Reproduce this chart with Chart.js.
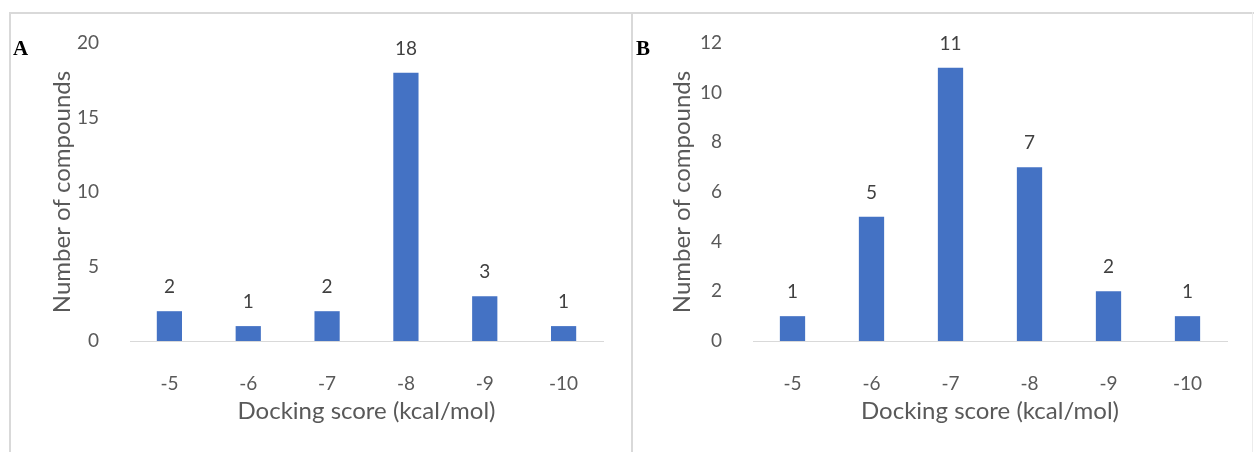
<!DOCTYPE html>
<html>
<head>
<meta charset="utf-8">
<script src="https://cdn.jsdelivr.net/npm/chart.js@4.4.1/dist/chart.umd.min.js"></script>
<style>
  body { margin: 0; background: #fff; width: 1254px; height: 452px; overflow: hidden; position: relative; }
  .line { position: absolute; background: #d9d9d9; }
  .panel { position: absolute; top: 0; height: 452px; }
  .tag { position: absolute; font-family: "Liberation Serif", serif; font-weight: bold; font-size: 21px; color: #000; }
</style>
</head>
<body>
<div class="line" style="left:9px; top:12px; width:1245px; height:2px;"></div>
<div class="line" style="left:9px; top:12px; width:2px; height:440px;"></div>
<div class="line" style="left:631px; top:12px; width:2px; height:440px;"></div>
<div class="line" style="left:1252px; top:12px; width:1px; height:440px; background:#ececec;"></div>

<div class="panel" style="left:0; width:632px;"><canvas id="chartA" width="632" height="452"></canvas></div>
<div class="panel" style="left:632px; width:622px;"><canvas id="chartB" width="622" height="452"></canvas></div>

<div class="tag" style="left:13px; top:36px;">A</div>
<div class="tag" style="left:636px; top:36px;">B</div>

<script>
const scores = ['-5', '-6', '-7', '-8', '-9', '-10'];
const countsA = [2, 1, 2, 18, 3, 1];
const countsB = [1, 5, 11, 7, 2, 1];
const yMaxA = 20, yStepA = 5;
const yMaxB = 12, yStepB = 2;

const barLabels = {
    id: 'barLabels',
    afterDatasetsDraw(chart) {
        const ctx = chart.ctx;
        const meta = chart.getDatasetMeta(0);
        ctx.save();
        ctx.fillStyle = '#404040';
        ctx.font = '19px Lato';
        ctx.textAlign = 'center';
        ctx.textBaseline = 'middle';
        meta.data.forEach(function (bar, i) {
            ctx.fillText(chart.data.datasets[0].data[i], bar.x, bar.y - 24);
        });
        ctx.restore();
    }
};

function makeChart(id, values, yMax, yStep, padLeft, yWidth, padRight) {
    const ctx = document.getElementById(id).getContext('2d');
    return new Chart(ctx, {
        type: 'bar',
        data: {
            labels: scores,
            datasets: [{
                data: values,
                backgroundColor: '#4472c4',
                categoryPercentage: 1,
                barPercentage: 0.32
            }]
        },
        options: {
            responsive: false,
            animation: false,
            layout: { padding: { left: padLeft, right: padRight, top: 43, bottom: 22 } },
            plugins: {
                legend: { display: false },
                tooltip: { enabled: false }
            },
            scales: {
                x: {
                    grid: { display: false },
                    border: { display: true, color: '#d9d9d9', width: 1 },
                    ticks: { color: '#595959', font: { family: 'Lato', size: 19 }, padding: 23 },
                    title: {
                        display: true,
                        text: 'Docking score (kcal/mol)',
                        color: '#595959',
                        font: { family: 'Lato', size: 24 }
                    },
                    afterFit: function (scale) { scale.height = 89; }
                },
                y: {
                    min: 0,
                    max: yMax,
                    grid: { display: false },
                    border: { display: false },
                    ticks: { stepSize: yStep, color: '#595959', font: { family: 'Lato', size: 19 }, padding: 23 },
                    title: {
                        display: true,
                        text: 'Number of compounds',
                        color: '#595959',
                        font: { family: 'Lato', size: 24 }
                    },
                    afterFit: function (scale) { scale.width = yWidth; }
                }
            }
        },
        plugins: [barLabels]
    });
}

makeChart('chartA', countsA, yMaxA, yStepA, 44, 86, 29);
makeChart('chartB', countsB, yMaxB, yStepB, 32, 89, 27);
</script>
</body>
</html>
